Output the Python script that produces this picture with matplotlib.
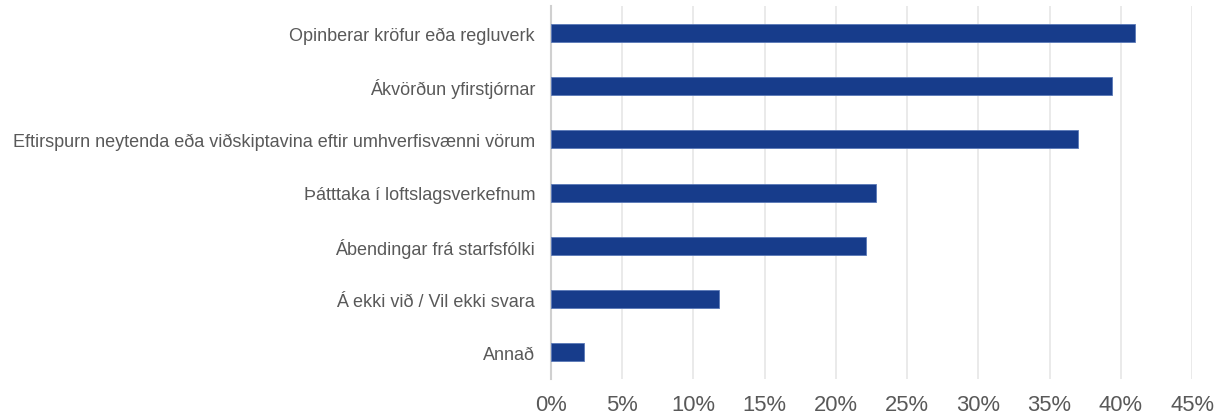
import matplotlib
matplotlib.use("Agg")
import matplotlib.pyplot as plt
from matplotlib.ticker import PercentFormatter

categories = [
    "Opinberar kröfur eða regluverk",
    "Ákvörðun yfirstjórnar",
    "Eftirspurn neytenda eða viðskiptavina eftir umhverfisvænni vörum",
    "Þátttaka í loftslagsverkefnum",
    "Ábendingar frá starfsfólki",
    "Á ekki við / Vil ekki svara",
    "Annað",
]
values = [41.0, 39.4, 37.0, 22.8, 22.1, 11.8, 2.3]
xticks = [0, 5, 10, 15, 20, 25, 30, 35, 40, 45]

plt.rcParams["font.family"] = ["Liberation Sans", "DejaVu Sans"]

fig = plt.figure(figsize=(12.22, 4.14), dpi=100)
ax = fig.add_axes([0.4509, 0.0821, 0.5246, 0.9003])

pos = list(range(len(categories)))
ax.barh(pos, values, height=0.34, color="#173c8b", edgecolor="#5a78b8", linewidth=0.6, zorder=3)

ax.set_ylim(len(categories) - 0.5, -0.5)
ax.set_xlim(0, 45)
ax.set_xticks(xticks)
ax.xaxis.set_major_formatter(PercentFormatter(decimals=0))
ax.set_yticks(pos)
ax.set_yticklabels(categories)

ax.grid(axis="x", color="#e6e6e6", linewidth=1.2, zorder=0)
for s in ["top", "right", "bottom"]:
    ax.spines[s].set_visible(False)
ax.spines["left"].set_color("#d0d0d0")
ax.spines["left"].set_linewidth(1.5)

ax.tick_params(axis="y", length=0, pad=11.5, labelsize=13, labelcolor="#595959")
ax.tick_params(axis="x", length=0, pad=11, labelsize=15.8, labelcolor="#595959")

fig.savefig("out.png", dpi=100)
